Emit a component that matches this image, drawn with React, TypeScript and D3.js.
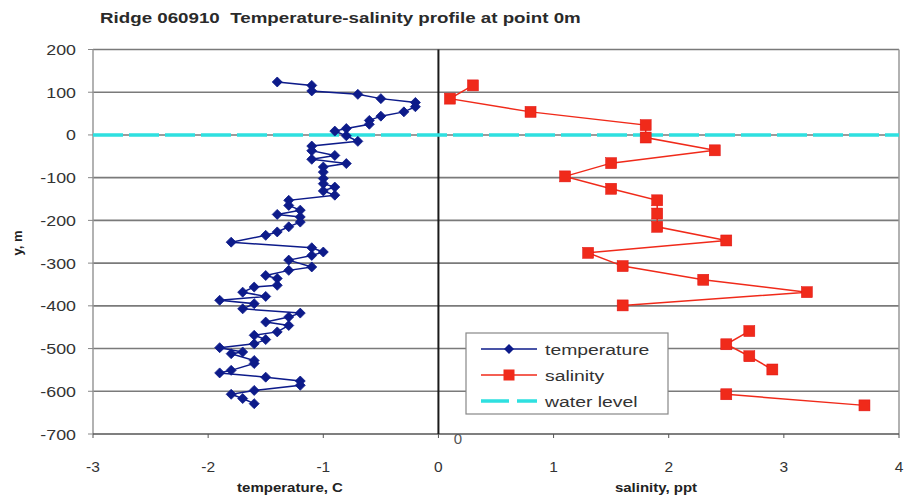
import React from "react";
import * as d3 from "d3";

const tempDepth = [124, 116, 103, 95, 85, 76, 66, 54, 44, 34, 25, 15, 9, -2, -15, -26, -37, -48, -57, -67, -75, -87, -102, -114, -122, -131, -141, -153, -165, -176, -186, -192, -204, -215, -227, -235, -251, -264, -274, -282, -293, -309, -317, -329, -336, -352, -356, -368, -378, -387, -395, -407, -417, -426, -438, -446, -461, -469, -479, -489, -498, -508, -512, -528, -535, -551, -557, -567, -576, -586, -598, -607, -617, -629];
const tempValues = [-1.4, -1.1, -1.1, -0.7, -0.5, -0.2, -0.2, -0.3, -0.5, -0.6, -0.6, -0.8, -0.9, -0.8, -0.7, -1.1, -1.1, -0.9, -1.1, -0.8, -1.0, -1.0, -1.0, -1.0, -0.9, -1.0, -0.9, -1.3, -1.3, -1.2, -1.4, -1.2, -1.2, -1.3, -1.4, -1.5, -1.8, -1.1, -1.0, -1.1, -1.3, -1.1, -1.3, -1.5, -1.4, -1.4, -1.6, -1.7, -1.5, -1.9, -1.6, -1.7, -1.2, -1.3, -1.5, -1.3, -1.4, -1.6, -1.5, -1.6, -1.9, -1.7, -1.8, -1.6, -1.6, -1.8, -1.9, -1.5, -1.2, -1.2, -1.6, -1.8, -1.7, -1.6];

const salDepth = [116, 85, 54, 23, -6, -36, -66, -97, -126, -153, -184, -215, -247, -276, -307, -339, -368, -399, -429, -459, -490, -518, -549, -579, -607, -633];
const salValues: (number | null)[] = [0.3, 0.1, 0.8, 1.8, 1.8, 2.4, 1.5, 1.1, 1.5, 1.9, 1.9, 1.9, 2.5, 1.3, 1.6, 2.3, 3.2, 1.6, null, 2.7, 2.5, 2.7, 2.9, null, 2.5, 3.7];

const waterX = [-3, 4];
const waterLevel = [0, 0];

const xTicks = [-3, -2, -1, 0, 1, 2, 3, 4];
const yTicks = [200, 100, 0, -100, -200, -300, -400, -500, -600, -700];

const title = "Ridge 060910  Temperature-salinity profile at point 0m";
const xTitleTemp = "temperature, C";
const xTitleSal = "salinity, ppt";
const yTitle = "y, m";
const legendLabels = ["temperature", "salinity", "water level"];

const FONT = "'Liberation Sans', Arial, sans-serif";
const NAVY = "#0d1b8a";
const RED = "#f02a1a";
const CYAN = "#2ee0e0";

function T({ x, y, size, sx = 1.18, anchor = "start", weight = "normal", fill = "#222", children }: any) {
  return (
    <text
      transform={`translate(${x},${y}) scale(${sx},1)`}
      fontSize={size}
      fontFamily={FONT}
      fontWeight={weight}
      textAnchor={anchor}
      fill={fill}
      style={{ whiteSpace: "pre" }}
    >
      {children}
    </text>
  );
}

export default function App() {
  const W = 904, H = 499;
  const x = d3.scaleLinear().domain([-3, 4]).range([93, 899]);
  const y = d3.scaleLinear().domain([-700, 200]).range([434, 49.5]);

  const temp = tempDepth.map((d, i) => ({ d, v: tempValues[i] }));
  const sal = salDepth.map((d, i) => ({ d, v: salValues[i] }));

  const tempLine = d3.line<any>().x((p) => x(p.v)).y((p) => y(p.d));
  const salLine = d3
    .line<any>()
    .defined((p) => p.v !== null)
    .x((p) => x(p.v))
    .y((p) => y(p.d));
  const waterLine = d3
    .line<any>()
    .x((p) => x(p.x))
    .y((p) => y(p.y));
  const water = waterX.map((v, i) => ({ x: v, y: waterLevel[i] }));

  const diamond = (cx: number, cy: number, r = 5) =>
    `M${cx},${cy - r}L${cx + r},${cy}L${cx},${cy + r}L${cx - r},${cy}Z`;

  const lg = { x: 466, y: 333, w: 202, h: 81 };

  return (
    <svg width={W} height={H} style={{ position: "absolute", left: 0, top: 0, background: "#fff" }}>
      <rect x={0} y={0} width={W} height={H} fill="#fff" />
      <T x={100} y={23} size={15} weight="bold" sx={1.25} fill="#2a2a2a">{title}</T>

      {/* gridlines */}
      {yTicks.filter((t) => t > -700).map((t) => (
        <line key={t} x1={x(-3)} x2={x(4)} y1={y(t)} y2={y(t)} stroke="#7a7a7a" strokeWidth={1.6} />
      ))}
      {/* border */}
      <line x1={x(-3)} x2={x(-3)} y1={y(200)} y2={y(-700)} stroke="#999" strokeWidth={1.5} />
      <line x1={x(4)} x2={x(4)} y1={y(200)} y2={y(-700)} stroke="#999" strokeWidth={1.5} />
      {/* bottom axis */}
      <line x1={x(-3)} x2={x(4)} y1={y(-700)} y2={y(-700)} stroke="#555" strokeWidth={1.6} />
      {xTicks.map((t) => (
        <line key={t} x1={x(t)} x2={x(t)} y1={y(-700)} y2={y(-700) + 4} stroke="#555" strokeWidth={1} />
      ))}
      {yTicks.map((t) => (
        <line key={t} x1={x(-3) - 5} x2={x(-3)} y1={y(t)} y2={y(t)} stroke="#888" strokeWidth={1} />
      ))}
      {/* zero vertical axis */}
      <line x1={x(0)} x2={x(0)} y1={y(200)} y2={y(-700)} stroke="#1a1a1a" strokeWidth={2} />

      {/* tick labels */}
      {yTicks.map((t) => (
        <T key={t} x={76} y={y(t) + 5.5} size={15.5} anchor="end" sx={1.15} fill="#333">{t}</T>
      ))}
      {xTicks.map((t) => (
        <T key={t} x={x(t)} y={472} size={15.5} anchor="middle" sx={1.0} fill="#333">{t}</T>
      ))}

      {/* axis titles */}
      <T x={290} y={492} size={12.5} weight="bold" anchor="middle" sx={1.2}>{xTitleTemp}</T>
      <T x={656} y={492} size={12.5} weight="bold" anchor="middle" sx={1.2}>{xTitleSal}</T>
      <text
        transform={`translate(22,243) rotate(-90)`}
        fontSize={13}
        fontFamily={FONT}
        fontWeight="bold"
        textAnchor="middle"
        fill="#222"
      >
        {yTitle}
      </text>

      {/* water level */}
      <path d={waterLine(water) || ""} fill="none" stroke={CYAN} strokeWidth={3.5} strokeDasharray="30 6" />

      {/* temperature */}
      <path d={tempLine(temp) || ""} fill="none" stroke={NAVY} strokeWidth={1.5} />
      {temp.map((p, i) => (
        <path key={i} d={diamond(x(p.v), y(p.d))} fill={NAVY} stroke={NAVY} strokeWidth={0.8} />
      ))}

      {/* salinity */}
      <path d={salLine(sal) || ""} fill="none" stroke={RED} strokeWidth={1.5} />
      {sal.filter((p) => p.v !== null).map((p, i) => (
        <rect key={i} x={x(p.v as number) - 5.5} y={y(p.d) - 5.5} width={11} height={11} fill={RED} stroke="#e01010" strokeWidth={0.5} />
      ))}

      {/* stray data label */}
      <T x={458} y={444} size={15} anchor="middle" sx={1.0} fill="#555">0</T>

      {/* legend */}
      <rect x={lg.x} y={lg.y} width={lg.w} height={lg.h} fill="#fff" stroke="#888" strokeWidth={1.2} />
      {legendLabels.map((lab, i) => {
        const ly = lg.y + 16 + i * 26;
        return (
          <g key={lab}>
            {i === 0 && (
              <>
                <line x1={481} x2={537} y1={ly} y2={ly} stroke={NAVY} strokeWidth={1.5} />
                <path d={diamond(509, ly)} fill={NAVY} />
              </>
            )}
            {i === 1 && (
              <>
                <line x1={481} x2={537} y1={ly} y2={ly} stroke={RED} strokeWidth={1.5} />
                <rect x={503.5} y={ly - 5.5} width={11} height={11} fill={RED} />
              </>
            )}
            {i === 2 && (
              <line x1={481} x2={537} y1={ly} y2={ly} stroke={CYAN} strokeWidth={3.5} strokeDasharray="28 8" />
            )}
            <T x={545} y={ly + 5.5} size={15.5} sx={1.25} fill="#333">{lab}</T>
          </g>
        );
      })}
    </svg>
  );
}
